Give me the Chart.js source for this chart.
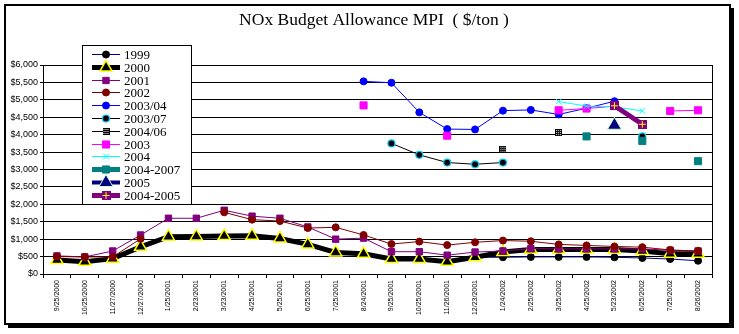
<!DOCTYPE html>
<html>
<head>
<meta charset="utf-8">
<script src="https://cdn.jsdelivr.net/npm/chart.js@4"></script>
<style>
  body { margin: 0; background: #fff; }
</style>
</head>
<body>
<canvas id="chart" width="739" height="334"></canvas>
<script>
// months on the x axis
const dates = ['9/25/2000', '10/25/2000', '11/27/2000', '12/27/2000', '1/25/2001', '2/23/2001',
  '3/23/2001', '4/25/2001', '5/25/2001', '6/25/2001', '7/25/2001', '8/24/2001', '9/25/2001',
  '10/25/2001', '11/26/2001', '12/23/2001', '1/24/2002', '2/25/2002', '3/25/2002', '4/25/2002',
  '5/23/2002', '6/25/2002', '7/25/2002', '8/26/2002'];

const _ = null;
const v1999 = [420, 380, 450, 800, 1080, 1090, 1100, 1110, 1030, 860, 640, 590, 440, 440, 370, 480, 480, 490, 490, 490, 480, 460, 430, 380];
const v2000 = [400, 350, 440, 780, 1070, 1080, 1090, 1100, 1020, 850, 620, 580, 430, 430, 350, 480, 630, 700, 700, 700, 700, 660, 580, 580];
const v2001 = [520, 490, 660, 1120, 1600, 1600, 1830, 1660, 1600, 1350, 1000, 1030, 640, 640, 540, 630, 660, 730, 720, 720, 720, 720, 680, 660];
const v2002 = [500, 490, 490, 1010, _, _, 1770, 1560, 1520, 1320, 1340, 1120, 860, 930, 830, 910, 960, 940, 850, 820, 790, 770, 690, 660];
const v2003_04 = [_, _, _, _, _, _, _, _, _, _, _, 5530, 5490, 4640, 4160, 4150, 4690, 4710, 4580, 4760, 4960, _, _, _];
const v2003_07 = [_, _, _, _, _, _, _, _, _, _, _, _, 3750, 3420, 3200, 3150, 3200, _, _, _, _, 3950, _, _];
const v2004_06 = [_, _, _, _, _, _, _, _, _, _, _, _, _, _, _, _, 3580, _, 4060, _, _, _, _, _];
const v2003 = [_, _, _, _, _, _, _, _, _, _, _, 4840, _, _, 3970, _, _, _, 4700, 4750, 4820, _, 4680, 4700];
const v2004 = [_, _, _, _, _, _, _, _, _, _, _, _, _, _, _, _, _, _, 4950, 4820, 4800, 4680, _, _];
const v2004_2007 = [_, _, _, _, _, _, _, _, _, _, _, _, _, _, _, _, _, _, _, 3950, _, 3820, _, 3240];
const v2005 = [_, _, _, _, _, _, _, _, _, _, _, _, _, _, _, _, _, _, _, _, 4270, _, _, _];
const v2004_2005 = [_, _, _, _, _, _, _, _, _, _, _, _, _, _, _, _, _, _, _, _, 4830, 4300, _, _];

const yTicks = [0, 500, 1000, 1500, 2000, 2500, 3000, 3500, 4000, 4500, 5000, 5500, 6000];
const chartTitle = 'NOx Budget Allowance MPI  ( $/ton )';

// little marker images for the two odd Excel markers
function dottedSquare() {
  const c = document.createElement('canvas');
  c.width = 7; c.height = 7;
  const g = c.getContext('2d');
  g.fillStyle = '#000'; g.fillRect(0, 0, 7, 7);
  g.fillStyle = '#fff';
  for (let y = 1; y < 6; y += 2) for (let x = 1; x < 6; x += 2) g.fillRect(x, y, 1, 1);
  return c;
}
function plusSquare() {
  const c = document.createElement('canvas');
  c.width = 9; c.height = 9;
  const g = c.getContext('2d');
  g.fillStyle = '#800080'; g.fillRect(0, 0, 9, 9);
  g.fillStyle = '#FFFF00';
  g.fillRect(4, 1, 1, 7);
  g.fillRect(1, 4, 7, 1);
  return c;
}

function series(label, data, color, width, style, radius, fill, border, bw) {
  return {
    label: label, data: data,
    borderColor: color, borderWidth: width,
    pointStyle: style, pointRadius: radius,
    pointBackgroundColor: fill, pointBorderColor: border, pointBorderWidth: bw,
    tension: 0, spanGaps: false, fill: false
  };
}

const datasets = [
  series('1999', v1999, '#000080', 1, 'circle', 3.5, '#000', '#000', 1),
  series('2000', v2000, '#000', 5, 'triangle', 7, '#000', '#FFFF00', 1.5),
  series('2001', v2001, '#800080', 1, 'rect', 4.5, '#800080', '#800080', 1),
  series('2002', v2002, '#800000', 1, 'circle', 3.5, '#800000', '#800000', 1),
  series('2003/04', v2003_04, '#0000FF', 1, 'circle', 3.5, '#0000FF', '#0000FF', 1),
  series('2003/07', v2003_07, '#000', 1, 'circle', 3.5, '#000', '#00CCFF', 1.2),
  series('2004/06', v2004_06, '#000', 1, dottedSquare(), 3.5, '#000', '#000', 1),
  series('2003', v2003, '#FF00FF', 1, 'rect', 5, '#FF00FF', '#FF00FF', 1),
  series('2004', v2004, '#00FFFF', 1, 'crossRot', 4, '#00FFFF', '#00FFFF', 1),
  series('2004-2007', v2004_2007, '#008080', 5, 'rect', 5, '#008080', '#008080', 1),
  series('2005', v2005, '#000080', 4, 'triangle', 8, '#000080', '#CCFFCC', 1),
  series('2004-2005', v2004_2005, '#800080', 5, plusSquare(), 4.5, '#800080', '#800080', 1)
];
// Excel paints later series on top
datasets.forEach((d, i) => { d.order = datasets.length - i; });

const frameAndLegend = {
  id: 'frameAndLegend',
  beforeDraw(chart) {
    const ctx = chart.ctx;
    ctx.save();
    ctx.fillStyle = '#fff';
    ctx.fillRect(0, 0, chart.width, chart.height);
    ctx.restore();
  },
  afterDraw(chart) {
    const ctx = chart.ctx;
    const a = chart.chartArea;
    ctx.save();
    // title
    ctx.fillStyle = '#000';
    ctx.font = '17.5px "Liberation Serif"';
    ctx.textAlign = 'center';
    ctx.textBaseline = 'alphabetic';
    ctx.fillText(chartTitle, 374, 25);
    ctx.textAlign = 'left';

    // right edge of plot area
    ctx.strokeStyle = '#000';
    ctx.lineWidth = 1;
    ctx.beginPath();
    ctx.moveTo(Math.round(a.right) + 0.5, a.top);
    ctx.lineTo(Math.round(a.right) + 0.5, a.bottom);
    ctx.stroke();

    // legend box
    const lx = 82, ly = 45, lw = 109, lh = 159;
    ctx.fillStyle = '#fff';
    ctx.fillRect(lx, ly, lw, lh);
    ctx.strokeRect(lx + 0.5, ly + 0.5, lw, lh);
    ctx.font = '13px "Liberation Serif"';
    ctx.textBaseline = 'middle';
    chart.data.datasets.forEach((d, i) => {
      const y = Math.round(54 + i * 12.8) + 0.5;
      ctx.strokeStyle = d.borderColor;
      ctx.lineWidth = d.borderWidth;
      ctx.beginPath();
      ctx.moveTo(92, y);
      ctx.lineTo(120, y);
      ctx.stroke();
      ctx.fillStyle = d.pointBackgroundColor;
      ctx.strokeStyle = d.pointBorderColor;
      ctx.lineWidth = d.pointBorderWidth;
      Chart.helpers.drawPoint(ctx, {
        pointStyle: d.pointStyle, radius: d.pointRadius, rotation: 0, borderWidth: d.pointBorderWidth
      }, 106, y);
      ctx.fillStyle = '#000';
      ctx.fillText(d.label, 124, y + 1);
    });

    // chart frame with shadow
    ctx.strokeStyle = '#000';
    ctx.lineWidth = 2;
    ctx.strokeRect(5, 5, 725, 319);
    ctx.fillStyle = '#000';
    ctx.fillRect(731, 8, 3, 320);
    ctx.fillRect(8, 325, 726, 3);
    ctx.restore();
  }
};

new Chart(document.getElementById('chart'), {
  type: 'line',
  data: { labels: dates, datasets: datasets },
  options: {
    responsive: false,
    animation: false,
    devicePixelRatio: 1,
    layout: { padding: { left: 0, right: 27, top: 65, bottom: 0 } },
    plugins: {
      legend: { display: false },
      tooltip: { enabled: false },
      title: { display: false }
    },
    scales: {
      x: {
        offset: true,
        afterFit: (s) => { s.height = 60; },
        grid: { offset: true, drawOnChartArea: false, drawTicks: true, tickLength: 4, color: '#000' },
        border: { color: '#000', width: 1 },
        ticks: {
          autoSkip: false, minRotation: 90, maxRotation: 90, padding: 2, color: '#000',
          font: { family: 'Liberation Sans', size: 7 }
        }
      },
      y: {
        min: 0, max: 6000,
        afterFit: (s) => { s.width = 43; },
        afterBuildTicks: (s) => { s.ticks = yTicks.map(v => ({ value: v })); },
        grid: { color: '#000', lineWidth: 1, tickLength: 3 },
        border: { color: '#000', width: 1 },
        ticks: {
          padding: 2, color: '#000',
          font: { family: 'Liberation Sans', size: 9 },
          callback: (v) => '$' + v.toLocaleString('en-US')
        }
      }
    }
  },
  plugins: [frameAndLegend]
});
</script>
</body>
</html>
